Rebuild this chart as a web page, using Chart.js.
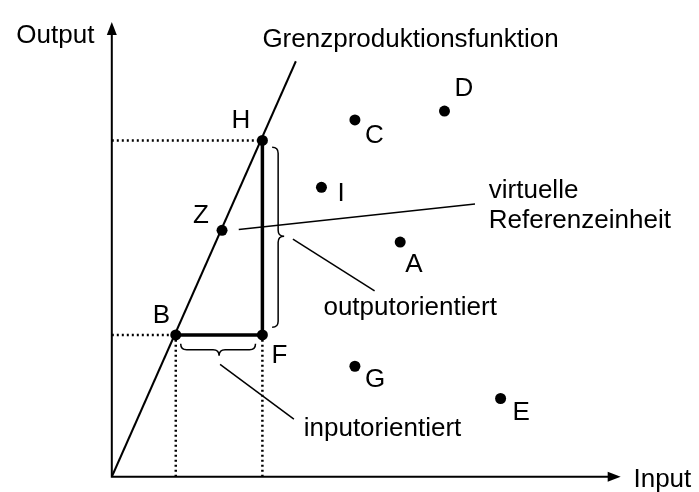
<!DOCTYPE html>
<html>
<head>
<meta charset="utf-8">
<script src="https://cdn.jsdelivr.net/npm/chart.js@4"></script>
<style>
  body { margin: 0; background: #fff; }
  canvas { display: block; }
</style>
</head>
<body>
<canvas id="deaChart" width="699" height="492"></canvas>
<script>
// Entscheidungseinheiten (Input / Output)
const einheiten = ["A", "B", "C", "D", "E", "F", "G", "H", "I", "Z"];
const inputWerte = [29.3, 6.5, 24.7, 33.8, 39.5, 15.3, 24.7, 15.3, 21.3, 11.2];
const outputWerte = [24.0, 14.5, 36.5, 37.4, 8.0, 14.5, 11.3, 34.4, 29.6, 25.2];

// Grenzproduktionsfunktion (Gerade durch den Ursprung)
const grenzeInput = [0, 18.7];
const grenzeOutput = [0, 42.5];

// Achsenlänge
const achseXMax = 51.7;
const achseYMax = 46.5;

// Beschriftungen der Punkte: Versatz in Pixel (links, Grundlinie)
const labelVersatz = {
  A: [5, 30], B: [-23, -12], C: [10, 23], D: [10, -15], E: [12, 21],
  F: [9, 28], G: [10, 21], H: [-31, -12], I: [16, 14], Z: [-29, -7]
};

const punkt = (name) => {
  const i = einheiten.indexOf(name);
  return { x: inputWerte[i], y: outputWerte[i] };
};
const H = punkt("H"), B = punkt("B"), F = punkt("F");

const punkte = einheiten.map((n, i) => ({ x: inputWerte[i], y: outputWerte[i] }));
const grenze = grenzeInput.map((x, i) => ({ x: x, y: grenzeOutput[i] }));

const gepunktet = {
  showLine: true, borderColor: "#000", borderWidth: 2.5, borderDash: [2, 3],
  pointRadius: 0, fill: false
};

const FONT = '26px "Liberation Sans", Arial, sans-serif';

// Achsen, Klammern, Hinweislinien und Texte
const skizzePlugin = {
  id: "skizze",
  afterDatasetsDraw(chart) {
    const ctx = chart.ctx;
    const sx = chart.scales.x, sy = chart.scales.y;
    const px = (v) => sx.getPixelForValue(v);
    const py = (v) => sy.getPixelForValue(v);
    ctx.save();
    ctx.strokeStyle = "#000";
    ctx.fillStyle = "#000";

    // Achsen
    ctx.lineWidth = 2;
    ctx.beginPath();
    ctx.moveTo(px(0), py(achseYMax) + 10);
    ctx.lineTo(px(0), py(0));
    ctx.lineTo(px(achseXMax) - 10, py(0));
    ctx.stroke();
    ctx.beginPath();
    ctx.moveTo(px(0), py(achseYMax));
    ctx.lineTo(px(0) - 5, py(achseYMax) + 13);
    ctx.lineTo(px(0) + 5, py(achseYMax) + 13);
    ctx.closePath();
    ctx.fill();
    ctx.beginPath();
    ctx.moveTo(px(achseXMax), py(0));
    ctx.lineTo(px(achseXMax) - 13, py(0) - 5);
    ctx.lineTo(px(achseXMax) - 13, py(0) + 5);
    ctx.closePath();
    ctx.fill();

    // Klammern
    ctx.lineWidth = 1.5;
    // senkrecht (outputorientiert)
    let x = px(16.9), y1 = py(33.7), y2 = py(15.3), ym = py(24.6), w = 6;
    ctx.beginPath();
    ctx.moveTo(x - w, y1);
    ctx.quadraticCurveTo(x, y1, x, y1 + w);
    ctx.lineTo(x, ym - w);
    ctx.quadraticCurveTo(x, ym, x + w, ym);
    ctx.quadraticCurveTo(x, ym, x, ym + w);
    ctx.lineTo(x, y2 - w);
    ctx.quadraticCurveTo(x, y2, x - w, y2);
    ctx.stroke();
    // waagerecht (inputorientiert)
    let y = py(13.0), x1 = px(7.0), x2 = px(14.6), xm = px(10.9);
    w = 6;
    ctx.beginPath();
    ctx.moveTo(x1, y - w);
    ctx.quadraticCurveTo(x1, y, x1 + w, y);
    ctx.lineTo(xm - w, y);
    ctx.quadraticCurveTo(xm, y, xm, y + w);
    ctx.quadraticCurveTo(xm, y, xm + w, y);
    ctx.lineTo(x2 - w, y);
    ctx.quadraticCurveTo(x2, y, x2, y - w);
    ctx.stroke();

    // Hinweislinien
    ctx.lineWidth = 1.5;
    [[18.4, 24.3, 26.7, 19.0], [11.0, 11.5, 18.5, 5.9], [12.9, 25.3, 36.9, 27.9]]
      .forEach(([a, b, c, d]) => {
        ctx.beginPath();
        ctx.moveTo(px(a), py(b));
        ctx.lineTo(px(c), py(d));
        ctx.stroke();
      });

    // Texte
    ctx.font = FONT;
    ctx.textAlign = "left";
    ctx.textBaseline = "alphabetic";
    ctx.fillText("Output", px(-9.7), py(44.4));
    ctx.fillText("Input", px(53.0), py(-1.1));
    ctx.fillText("Grenzproduktionsfunktion", px(15.3), py(44.0));
    ctx.fillText("virtuelle", px(38.3), py(28.5));
    ctx.fillText("Referenzeinheit", px(38.3), py(25.4));
    ctx.fillText("outputorientiert", px(21.5), py(16.5));
    ctx.fillText("inputorientiert", px(19.5), py(4.2));
    einheiten.forEach((n, i) => {
      const [dx, dy] = labelVersatz[n];
      ctx.fillText(n, px(inputWerte[i]) + dx, py(outputWerte[i]) + dy);
    });
    ctx.restore();
  }
};

new Chart(document.getElementById("deaChart").getContext("2d"), {
  type: "scatter",
  data: {
    datasets: [
      Object.assign({ data: [{ x: 0, y: H.y }, H] }, gepunktet),
      Object.assign({ data: [{ x: 0, y: B.y }, B] }, gepunktet),
      Object.assign({ data: [{ x: B.x, y: 0 }, B] }, gepunktet),
      Object.assign({ data: [{ x: F.x, y: 0 }, F] }, gepunktet),
      { data: grenze, showLine: true, borderColor: "#000", borderWidth: 2, pointRadius: 0 },
      { data: [H, F, B], showLine: true, borderColor: "#000", borderWidth: 3.5, pointRadius: 0 },
      { data: punkte, pointRadius: 5.5, backgroundColor: "#000", borderColor: "#000", borderWidth: 0 }
    ]
  },
  options: {
    responsive: false,
    animation: false,
    layout: { padding: 0 },
    plugins: { legend: { display: false }, tooltip: { enabled: false } },
    scales: {
      x: { type: "linear", min: -10.8, max: 59.1, display: false },
      y: { type: "linear", min: -1.0, max: 48.2, display: false }
    }
  },
  plugins: [skizzePlugin]
});
</script>
</body>
</html>
